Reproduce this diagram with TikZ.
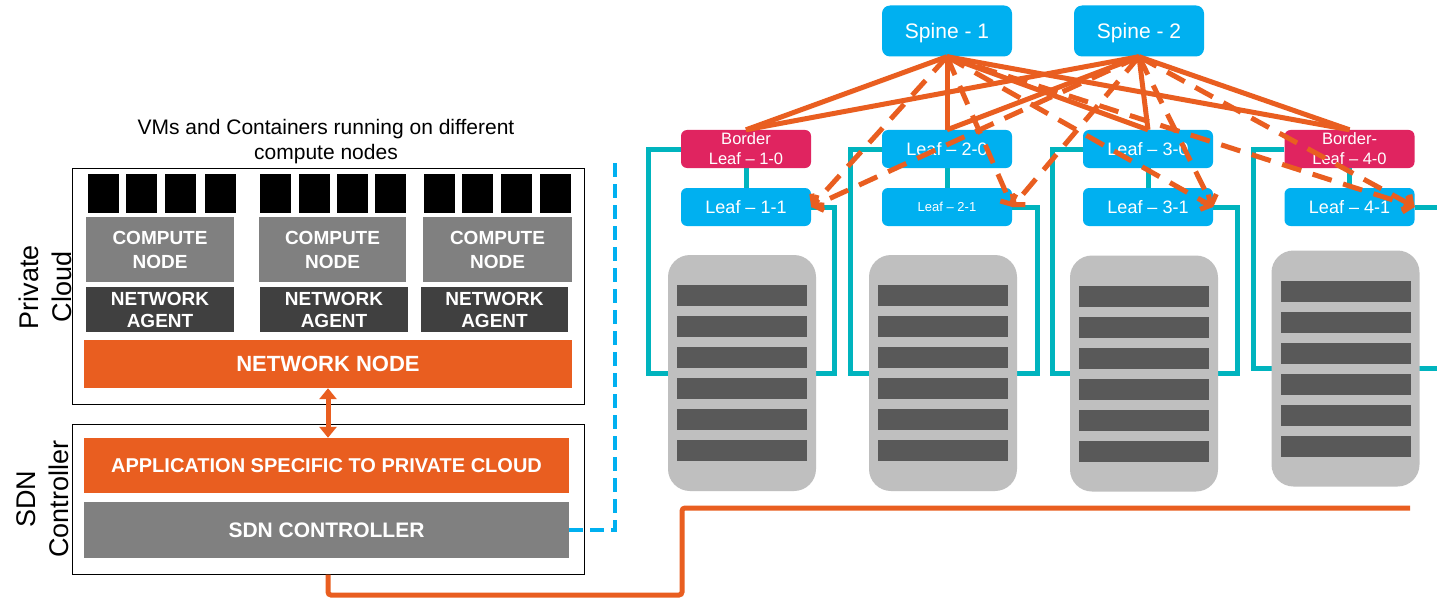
\documentclass[tikz,border=0pt]{standalone}
\usepackage{fontspec}
\setmainfont{Liberation Sans}
\usetikzlibrary{arrows.meta}
\definecolor{netorange}{RGB}{233,94,32}
\definecolor{fabblue}{RGB}{0,176,240}
\definecolor{borderpink}{RGB}{224,36,96}
\definecolor{linkteal}{RGB}{0,180,190}
\definecolor{rackgray}{RGB}{191,191,191}
\definecolor{bargray}{RGB}{89,89,89}
\definecolor{midgray}{RGB}{128,128,128}
\definecolor{agentgray}{RGB}{64,64,64}
\newcommand\px[2]{\fontsize{#1pt}{#2pt}\selectfont}
\pgfdeclarelayer{back}
\pgfsetlayers{back,main}
\tikzset{
  fab/.style={rounded corners=6pt, fill=fabblue, text=white, inner sep=0pt,
    minimum width=130pt, minimum height=38pt, align=center},
  leafbox/.style={fab, font=\px{18}{21}},
  borderbox/.style={fab, fill=borderpink, font=\px{16.5}{20}},
  spinebox/.style={fab, minimum height=51pt, rounded corners=8pt, font=\px{21}{24},
    text height=15pt, text depth=0pt},
  uplink/.style={draw=netorange, line width=5pt},
  downlink/.style={draw=netorange, line width=5pt, dash pattern=on 20pt off 12pt,
    -{Straight Barb[length=7pt,width=17pt]}},
  tealwire/.style={draw=linkteal, line width=5pt},
  ctrlwire/.style={draw=fabblue, line width=4.5pt, dash pattern=on 14pt off 7pt},
  panel/.style={inner sep=0pt, text=white, align=center, font=\bfseries\px{19}{24}},
  frame/.style={draw=black, line width=1pt, inner sep=0pt},
  side/.style={rotate=90, align=center, font=\px{27}{33}, inner sep=0pt},
}
\begin{document}
\begin{tikzpicture}[x=1pt,y=-1pt]
\clip (0,0) rectangle (1437,599);

% ---------------- fabric: leaves and spines ----------------
\node[borderbox] (l10) at (746,149) {Border\\Leaf – 1-0};
\node[leafbox]   (l11) at (746,207) {Leaf – 1-1};
\node[leafbox]   (l20) at (947,149) {Leaf – 2-0};
\node[leafbox, font=\px{13}{15}] (l21) at (947,207) {Leaf – 2-1};
\node[leafbox]   (l30) at (1148,149) {Leaf – 3-0};
\node[leafbox]   (l31) at (1148,207) {Leaf – 3-1};
\node[borderbox] (l40) at (1349.5,149) {Border-\\Leaf – 4-0};
\node[leafbox]   (l41) at (1349.5,207) {Leaf – 4-1};

\begin{pgfonlayer}{back}
\fill[white] (0,0) rectangle (1437,599);
% rack cabling, covered by the racks
\draw[tealwire] (l10.west) -| (648,373) -| (834,207) -- (l11.east);
\draw[tealwire] (l20.west) -| (850,373) -| (1037,207) -- (l21.east);
\draw[tealwire] (l30.west) -| (1052,373) -| (1237,207) -- (l31.east);
\draw[tealwire] (l40.west) -| (1253,368) -| (1460,207) -- (l41.east);
\draw[tealwire] (l10.south) -- (l11.north);
\draw[tealwire] (l20.south) -- (l21.north);
\draw[tealwire] (l30.south) -- (l31.north);
\draw[tealwire] (l40.south) -- (l41.north);
% server racks
\foreach \cx/\cy in {742/373, 943/373, 1144/373.5, 1345.5/368.5} {
  \fill[rackgray, rounded corners=22pt] (\cx-74,\cy-118) rectangle (\cx+74,\cy+118);
  \foreach \k in {0,...,5}
    \fill[bargray] (\cx-65,\cy-88+31*\k) rectangle (\cx+65,\cy-67+31*\k);
}
\end{pgfonlayer}

\node[spinebox] (s1) at (947,31) {Spine - 1};
\node[spinebox] (s2) at (1139,31) {Spine - 2};

% spine-to-leaf links
\foreach \l in {l10,l20,l30,l40} {
  \draw[uplink] (s1.south) -- (\l.north);
  \draw[uplink] (s2.south) -- (\l.north);
}
\foreach \l in {l11,l21,l31,l41} {
  \draw[downlink] (s1.south) -- (\l.east);
  \draw[downlink] (s2.south) -- (\l.east);
}

% ---------------- private cloud ----------------
\node[align=center, font=\px{21}{25}] (title) at (326,142)
  {VMs and Containers running on different\\compute nodes};
\node[frame, minimum width=512pt, minimum height=236pt] (pc) at (328,286) {};
\foreach \x in {88,126,165,205, 260,299,337,375, 424,462,501,540}
  \fill[black] (\x,174) rectangle (\x+31,213);
\node[panel, fill=midgray, minimum width=148pt, minimum height=65pt] (cn1) at (160,249.5) {COMPUTE\\NODE};
\node[panel, fill=midgray, minimum width=147pt, minimum height=65pt] (cn2) at (332.5,249.5) {COMPUTE\\NODE};
\node[panel, fill=midgray, minimum width=149pt, minimum height=65pt] (cn3) at (497.5,249.5) {COMPUTE\\NODE};
\node[panel, fill=agentgray, minimum width=148pt, minimum height=45pt, font=\bfseries\px{19}{22}] (na1) at (160,309.5) {NETWORK\\AGENT};
\node[panel, fill=agentgray, minimum width=148pt, minimum height=45pt, font=\bfseries\px{19}{22}] (na2) at (334,309.5) {NETWORK\\AGENT};
\node[panel, fill=agentgray, minimum width=147pt, minimum height=45pt, font=\bfseries\px{19}{22}] (na3) at (494.5,309.5) {NETWORK\\AGENT};
\node[panel, fill=netorange, minimum width=488pt, minimum height=48pt, font=\bfseries\px{22}{25}] (nn) at (328,364) {NETWORK NODE};
\node[side] (pclabel) at (45,287) {Private\\Cloud};

% ---------------- SDN controller ----------------
\node[frame, minimum width=512pt, minimum height=150pt] (sdnbox) at (328,499) {};
\node[panel, fill=netorange, minimum width=485pt, minimum height=55pt, font=\bfseries\px{20}{23}] (app) at (326.5,465.5) {APPLICATION SPECIFIC TO PRIVATE CLOUD};
\node[panel, fill=midgray, minimum width=485pt, minimum height=56pt, font=\bfseries\px{21}{24}] (sdn) at (326.5,530) {SDN CONTROLLER};
\node[side] (sdnlabel) at (43,499) {SDN\\Controller};

\draw[draw=netorange, line width=5pt,
  {Triangle[length=11pt,width=17pt]}-{Triangle[length=11pt,width=17pt]}]
  (nn.south) -- (nn.south |- app.north);

% management links
\coordinate (ctrltop) at (615,158);
\draw[ctrlwire] (sdn.east) -| (ctrltop);
\coordinate (fabfeed) at (1410,508);
\draw[uplink, rounded corners=3pt] (sdnbox.south) |- (682,595) |- (fabfeed);
\end{tikzpicture}
\end{document}
